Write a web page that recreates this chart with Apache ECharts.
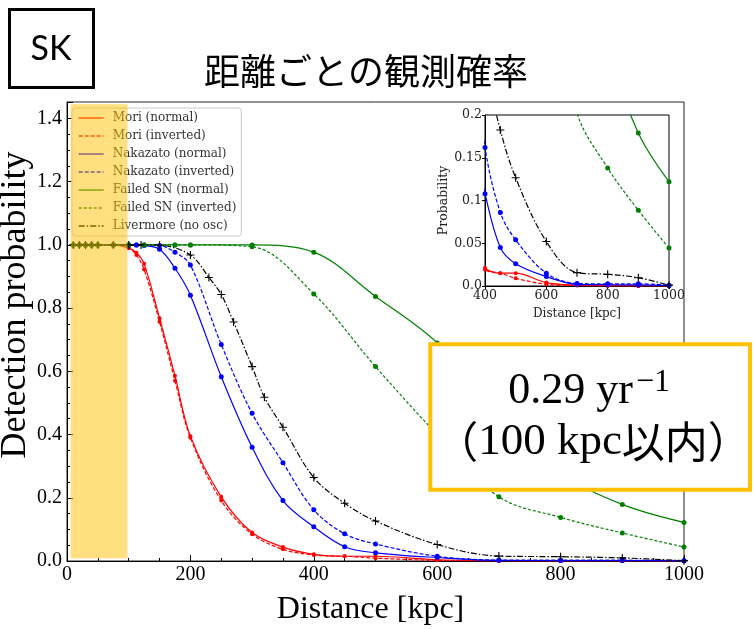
<!DOCTYPE html>
<html>
<head>
<meta charset="utf-8">
<script src="https://cdn.jsdelivr.net/npm/echarts@6/dist/echarts.min.js"></script>
<style>
  html, body { margin: 0; padding: 0; background: #fff; }
  #chart { width: 754px; height: 630px; }
</style>
</head>
<body>
<div id="chart"></div>
<script>
// Distances (kpc) at which each model was evaluated
const distMori = [10, 20, 30, 40, 50, 75, 100, 112.5, 125, 150, 175, 200, 250, 300, 350, 400, 450, 500, 600, 700, 800, 900, 1000];
const distNakazato = [10, 20, 30, 40, 50, 75, 100, 112.5, 125, 150, 175, 200, 250, 300, 350, 400, 450, 500, 600, 700, 800, 900, 1000];
const distFailed = [10, 20, 30, 40, 50, 75, 100, 125, 175, 200, 300, 400, 500, 600, 700, 800, 900, 1000];
const distLivermore = [10, 20, 30, 40, 50, 75, 100, 120, 150, 200, 230, 250, 270, 300, 320, 350, 400, 450, 500, 600, 700, 800, 900, 1000];

// Detection probabilities
const moriNormal = [1, 1, 1, 1, 1, 1, 0.99, 0.975, 0.94, 0.768, 0.586, 0.395, 0.203, 0.09, 0.044, 0.021, 0.015, 0.015, 0.004, 0.001, 0.0003, 0.0001, 0];
const moriInverted = [1, 1, 1, 1, 1, 1, 0.99, 0.968, 0.922, 0.757, 0.57, 0.39, 0.191, 0.085, 0.037, 0.019, 0.015, 0.009, 0.002, 0.0005, 0.0001, 0, 0];
const nakazatoNormal = [1, 1, 1, 1, 1, 1, 1, 1, 0.998, 0.986, 0.926, 0.841, 0.583, 0.36, 0.191, 0.108, 0.045, 0.026, 0.011, 0.002, 0.0015, 0.0012, 0.0005];
const nakazatoInverted = [1, 1, 1, 1, 1, 1, 1, 1, 1, 0.998, 0.977, 0.936, 0.685, 0.467, 0.311, 0.162, 0.086, 0.054, 0.015, 0.003, 0.0025, 0.0025, 0.001];
const failedNormal = [1, 1, 1, 1, 1, 1, 1, 1, 1, 1, 1, 0.977, 0.837, 0.69, 0.47, 0.28, 0.179, 0.122];
const failedInverted = [1, 1, 1, 1, 1, 1, 1, 1, 1, 1, 0.994, 0.845, 0.615, 0.4, 0.203, 0.138, 0.0886, 0.0443];
const livermore = [1, 1, 1, 1, 1, 1, 1, 1, 0.999, 0.968, 0.897, 0.843, 0.756, 0.615, 0.518, 0.423, 0.264, 0.1825, 0.1266, 0.052, 0.0156, 0.0136, 0.0097, 0.001];

// Axis ticks
const mainXTicks = { min: 0, max: 1000, interval: 200 };
const mainYTicks = { min: 0, max: 1.452, interval: 0.2 };
const insetXTicks = { min: 400, max: 1000, interval: 200 };
const insetYTicks = { min: 0, max: 0.2, interval: 0.05 };

// Highlighted range (kpc) and probability span
const bandRange = [6, 98];
const bandSpan = [0.009, 1.445];

const plusPath = 'path://M0,4.3H10V5.7H0ZM4.3,0H5.7V10H4.3Z';

const seriesDefs = [
  { name: 'Mori (normal)', x: distMori, y: moriNormal, color: '#ff0000', dash: 'solid', symbol: 'circle', size: 4 },
  { name: 'Mori (inverted)', x: distMori, y: moriInverted, color: '#ff0000', dash: [4, 2], symbol: 'circle', size: 4 },
  { name: 'Nakazato (normal)', x: distNakazato, y: nakazatoNormal, color: '#0000ff', dash: 'solid', symbol: 'circle', size: 5 },
  { name: 'Nakazato (inverted)', x: distNakazato, y: nakazatoInverted, color: '#0000ff', dash: [4, 2], symbol: 'circle', size: 5 },
  { name: 'Failed SN (normal)', x: distFailed, y: failedNormal, color: '#008000', dash: 'solid', symbol: 'circle', size: 5 },
  { name: 'Failed SN (inverted)', x: distFailed, y: failedInverted, color: '#008000', dash: [3, 2], symbol: 'circle', size: 5 },
  { name: 'Livermore (no osc)', x: distLivermore, y: livermore, color: '#000000', dash: [6, 2, 1.5, 2], symbol: plusPath, size: 8 }
];

const serifTicks = '"Liberation Serif", "Times New Roman", serif';
const dejavuSerif = '"DejaVu Serif", serif';

function pairs(def) {
  return def.x.map((d, i) => [d, def.y[i]]);
}

// Smooth curve for each model
function makeLine(def, gridIdx) {
  return {
    type: 'line',
    name: def.name,
    xAxisIndex: gridIdx,
    yAxisIndex: gridIdx,
    data: pairs(def),
    smooth: 0.35,
    symbol: 'none',
    color: def.color,
    lineStyle: { color: def.color, width: 1.2, type: def.dash },
    emphasis: { disabled: true },
    silent: true,
    animation: false,
    z: 3
  };
}

// Markers at the evaluated distances
function makeMarks(def, gridIdx) {
  return {
    type: 'scatter',
    name: def.name + ' points',
    xAxisIndex: gridIdx,
    yAxisIndex: gridIdx,
    data: pairs(def),
    symbol: def.symbol,
    symbolSize: def.size,
    itemStyle: { color: def.color, opacity: 1 },
    emphasis: { disabled: true },
    silent: true,
    clip: true,
    animation: false,
    z: 4
  };
}

const series = [];
[0, 1].forEach(g => {
  seriesDefs.forEach(d => series.push(makeLine(d, g)));
  seriesDefs.forEach(d => series.push(makeMarks(d, g)));
});

// Semi-transparent highlight band drawn over the main plot
series.push({
  type: 'custom',
  xAxisIndex: 0,
  yAxisIndex: 0,
  z: 20,
  silent: true,
  data: [[bandRange[0], bandRange[1], bandSpan[0], bandSpan[1]]],
  renderItem: function (params, api) {
    const p0 = api.coord([api.value(0), api.value(3)]);
    const p1 = api.coord([api.value(1), api.value(2)]);
    return {
      type: 'rect',
      shape: { x: p0[0], y: p0[1], width: p1[0] - p0[0], height: p1[1] - p0[1] },
      style: { fill: 'rgba(255,192,0,0.5)' }
    };
  },
  animation: false
});

const chart = echarts.init(document.getElementById('chart'), null, { renderer: 'canvas' });

chart.setOption({
  backgroundColor: '#ffffff',
  animation: false,
  grid: [
    { left: 67, top: 102, width: 617, height: 459, show: true, borderColor: '#222', borderWidth: 1, backgroundColor: 'transparent', containLabel: false, outerBoundsMode: 'none' },
    { left: 485, top: 115, width: 184, height: 171, show: true, borderColor: '#000', borderWidth: 1, backgroundColor: '#ffffff', containLabel: false, outerBoundsMode: 'none' }
  ],
  xAxis: [
    {
      type: 'value', gridIndex: 0,
      min: mainXTicks.min, max: mainXTicks.max, interval: mainXTicks.interval,
      name: 'Distance [kpc]', nameLocation: 'middle', nameGap: 33,
      nameTextStyle: { fontFamily: serifTicks, fontSize: 32, color: '#000', padding: [0, 10, 0, 0] },
      axisLine: { show: true, lineStyle: { color: '#000', width: 1 } },
      axisTick: { show: true, inside: true, length: 6, lineStyle: { color: '#000' } },
      minorTick: { show: true, splitNumber: 4, length: 3, lineStyle: { color: '#000' } },
      axisLabel: { fontFamily: serifTicks, fontSize: 20, color: '#000', margin: 4, formatter: v => String(v) },
      splitLine: { show: false }
    },
    {
      type: 'value', gridIndex: 1,
      min: insetXTicks.min, max: insetXTicks.max, interval: insetXTicks.interval,
      name: 'Distance [kpc]', nameLocation: 'middle', nameGap: 22,
      nameTextStyle: { fontFamily: dejavuSerif, fontSize: 12, color: '#222' },
      axisLine: { show: true, lineStyle: { color: '#000', width: 1 } },
      axisTick: { show: true, inside: false, length: 3, lineStyle: { color: '#000' } },
      axisLabel: { fontFamily: dejavuSerif, fontSize: 12.5, color: '#222', margin: 3, formatter: v => String(v) },
      splitLine: { show: false }
    }
  ],
  yAxis: [
    {
      type: 'value', gridIndex: 0,
      min: mainYTicks.min, max: mainYTicks.max, interval: mainYTicks.interval,
      axisLine: { show: true, lineStyle: { color: '#000', width: 1 } },
      axisTick: { show: true, inside: true, length: 6, lineStyle: { color: '#000' } },
      minorTick: { show: true, splitNumber: 4, length: 3, lineStyle: { color: '#000' } },
      axisLabel: {
        fontFamily: serifTicks, fontSize: 20, color: '#000', margin: 5, showMaxLabel: false,
        formatter: v => v.toFixed(1)
      },
      splitLine: { show: false }
    },
    {
      type: 'value', gridIndex: 1,
      min: insetYTicks.min, max: insetYTicks.max, interval: insetYTicks.interval,
      name: 'Probability', nameLocation: 'middle', nameGap: 34,
      nameTextStyle: { fontFamily: dejavuSerif, fontSize: 12.5, color: '#222' },
      axisLine: { show: true, lineStyle: { color: '#000', width: 1 } },
      axisTick: { show: true, inside: false, length: 3, lineStyle: { color: '#000' } },
      axisLabel: {
        fontFamily: dejavuSerif, fontSize: 12.5, color: '#222', margin: 3,
        formatter: v => (v === 0 ? '0.0' : String(parseFloat(v.toFixed(2))))
      },
      splitLine: { show: false }
    }
  ],
  legend: {
    data: seriesDefs.map(d => d.name),
    orient: 'vertical',
    left: 72, top: 108,
    padding: [4, 5, 4, 6],
    itemWidth: 25, itemHeight: 11, itemGap: 6,
    backgroundColor: 'rgba(255,255,255,0.8)',
    borderColor: '#cccccc', borderWidth: 1, borderRadius: 3,
    itemStyle: { opacity: 0, borderWidth: 0 },
    lineStyle: { width: 1.4 },
    textStyle: { fontFamily: dejavuSerif, fontSize: 12, color: '#333', padding: [0, 0, 0, 4] },
    selectedMode: false,
    z: 4
  },
  graphic: [
    {
      type: 'text', z: 50, x: 16, y: 305, rotation: Math.PI / 2,
      style: { text: 'Detection probability', font: '36px "Liberation Serif", serif', fill: '#000', align: 'center', verticalAlign: 'middle' }
    },
    {
      type: 'rect', z: 100,
      shape: { x: 9.5, y: 9.5, width: 84, height: 78 },
      style: { fill: '#ffffff', stroke: '#000000', lineWidth: 3 }
    },
    {
      type: 'text', z: 101, x: 51, y: 49,
      style: { text: 'SK', font: '34px Lato, "Noto Sans", sans-serif', fill: '#000', align: 'center', verticalAlign: 'middle' }
    },
    {
      type: 'text', z: 101, x: 366, y: 71,
      style: { text: '距離ごとの観測確率', font: '36px "Noto Sans CJK JP", sans-serif', fill: '#000', align: 'center', verticalAlign: 'middle' }
    },
    {
      type: 'rect', z: 100,
      shape: { x: 430.3, y: 344.3, width: 319.7, height: 145.4 },
      style: { fill: '#ffffff', stroke: '#FFC000', lineWidth: 4 }
    },
    {
      type: 'text', z: 101, x: 633, y: 391,
      style: { text: '0.29 yr', font: '44px "Liberation Serif", serif', fill: '#000', align: 'right', verticalAlign: 'middle' }
    },
    {
      type: 'text', z: 101, x: 636, y: 383,
      style: { text: '−1', font: '32px "Liberation Serif", serif', fill: '#000', align: 'left', verticalAlign: 'middle' }
    },
    {
      type: 'text', z: 101, x: 593, y: 442,
      style: {
        text: '{p|（}{l|100 kpc}{p|以内）}',
        align: 'center', verticalAlign: 'middle', fill: '#000',
        rich: {
          p: { fontFamily: '"Noto Sans CJK JP", sans-serif', fontSize: 43, fill: '#000', verticalAlign: 'middle' },
          l: { fontFamily: '"Liberation Serif", serif', fontSize: 45, fill: '#000', verticalAlign: 'middle' }
        }
      }
    }
  ],
  series: series
});
</script>
</body>
</html>
